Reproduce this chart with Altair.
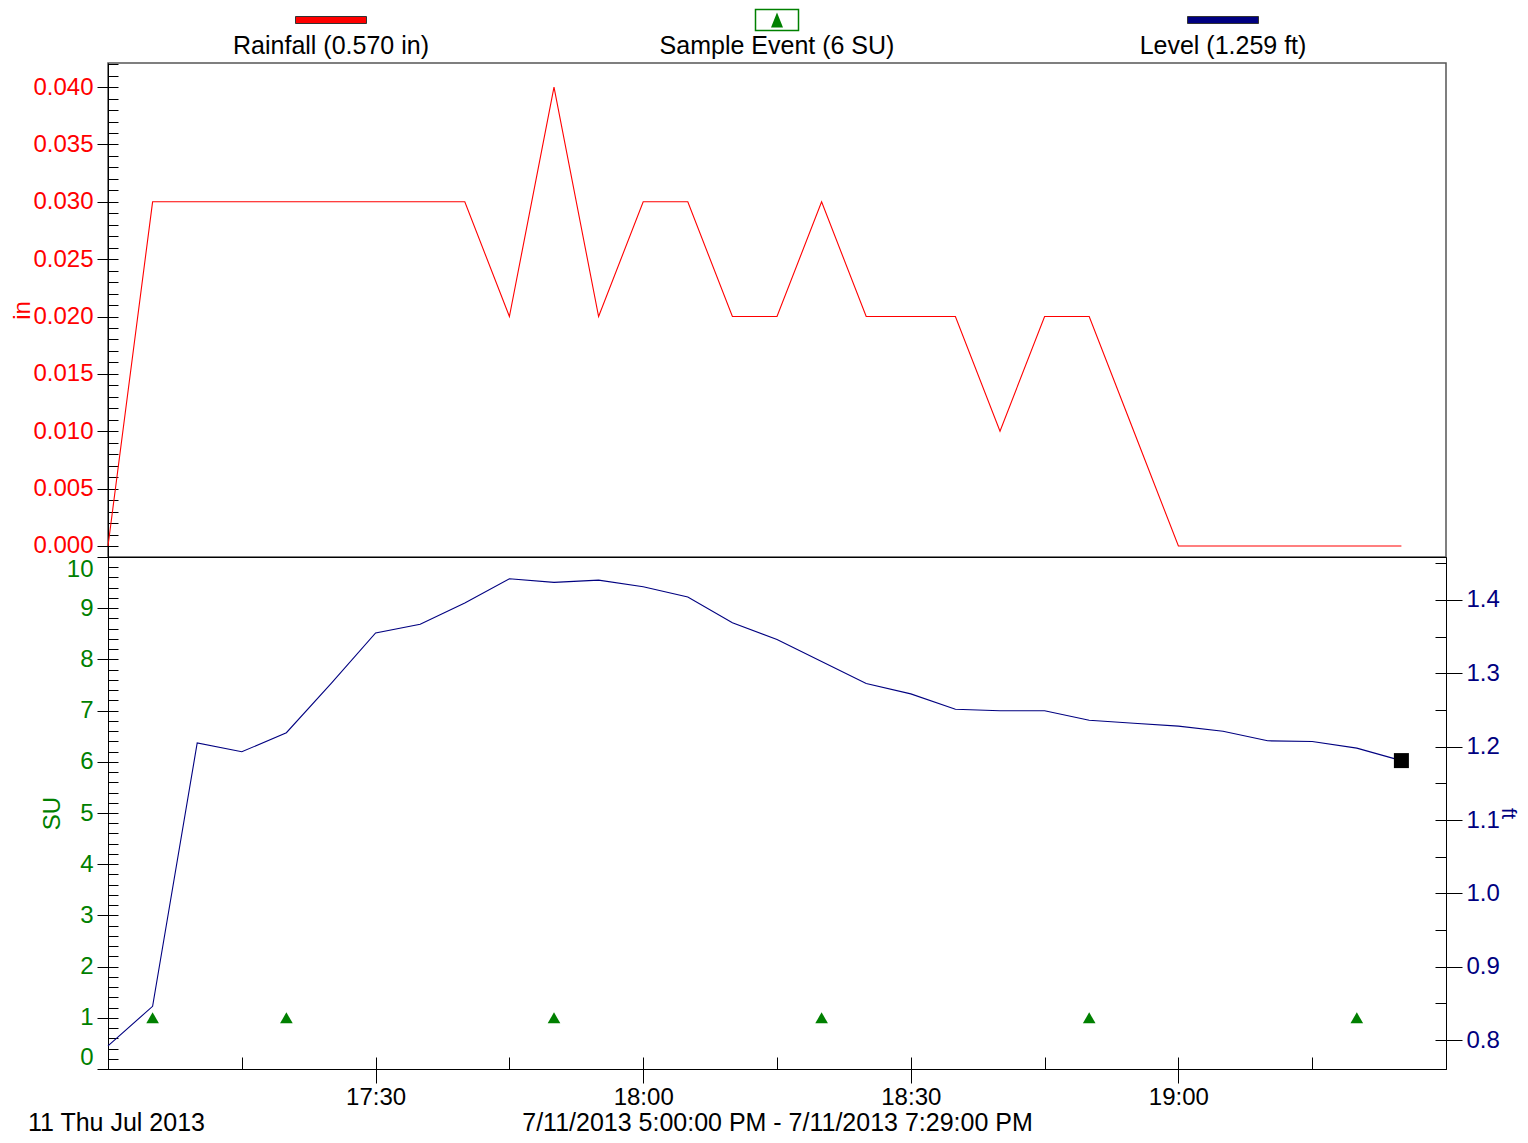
import altair as alt
import pandas as pd
import numpy as np

# ---------------- data ----------------
times = pd.date_range("2013-07-11 17:00", periods=30, freq="5min")

rain_in = [0.000, 0.030, 0.030, 0.030, 0.030, 0.030, 0.030, 0.030, 0.030, 0.020,
           0.040, 0.020, 0.030, 0.030, 0.020, 0.020, 0.030, 0.020, 0.020, 0.020,
           0.010, 0.020, 0.020, 0.010, 0.000, 0.000, 0.000, 0.000, 0.000, 0.000]

level_ft = [0.792, 0.846, 1.205, 1.193, 1.219, 1.286, 1.355, 1.367, 1.396, 1.429,
            1.424, 1.427, 1.418, 1.404, 1.369, 1.346, 1.316, 1.286, 1.272, 1.251,
            1.249, 1.249, 1.236, 1.232, 1.228, 1.221, 1.208, 1.207, 1.198, 1.181]

sample_times = ["2013-07-11T17:05:00", "2013-07-11T17:20:00", "2013-07-11T17:50:00",
                "2013-07-11T18:20:00", "2013-07-11T18:50:00", "2013-07-11T19:20:00"]
sample_su = [1, 1, 1, 1, 1, 1]

legend_keys = ["rain", "sample", "level"]
legend_labels = ["Rainfall (0.570 in)", "Sample Event (6 SU)", "Level (1.259 ft)"]

rain_ticks = [0.000, 0.005, 0.010, 0.015, 0.020, 0.025, 0.030, 0.035, 0.040]
rain_minor = [round(v, 3) for v in np.arange(0.0, 0.0425, 0.001)]
su_ticks = [0, 1, 2, 3, 4, 5, 6, 7, 8, 9, 10]
su_minor = [round(v, 1) for v in np.arange(0.0, 10.01, 0.2)]
ft_ticks = [0.8, 0.9, 1.0, 1.1, 1.2, 1.3, 1.4]
ft_minor = [round(v, 2) for v in np.arange(0.8, 1.46, 0.05)]
time_major = [(17, 30), (18, 0), (18, 30), (19, 0)]
time_minor = [(17, 15), (17, 30), (17, 45), (18, 0), (18, 15), (18, 30),
              (18, 45), (19, 0), (19, 15)]

day_label = "11 Thu Jul 2013"
range_label = "7/11/2013 5:00:00 PM - 7/11/2013 7:29:00 PM"

# ---------------- styling ----------------
FONT = "Liberation Sans"
FS = 24
FS_BIG = 25
RED = "#ff0000"
GREEN = "#008000"
NAVY = "#000080"
W = 1338
H_TOP = 494
H_BOT = 512
H_LEG = 54


def dt(h, m):
    return alt.DateTime(year=2013, month=7, date=11, hours=h, minutes=m)


x_dom = [dt(17, 0), dt(19, 30)]
x_scale = alt.Scale(domain=x_dom, nice=False)
x_none = alt.X("time:T", scale=x_scale, axis=None)

rain_scale = alt.Scale(domain=[-0.00096, 0.0421], nice=False, zero=False)
su_scale = alt.Scale(domain=[0, 10], nice=False, zero=False)
ft_scale = alt.Scale(domain=[0.7605, 1.4586], nice=False, zero=False)

rain_df = pd.DataFrame({"time": times, "rain": rain_in})
level_df = pd.DataFrame({"time": times, "level": level_ft})
su_df = pd.DataFrame({"time": pd.to_datetime(sample_times), "su": sample_su})
last_df = level_df.tail(1)
leg_df = pd.DataFrame({"key": legend_keys, "label": legend_labels})

# ---------------- legend strip ----------------
x_leg = alt.X("key:N", scale=alt.Scale(type="point", domain=legend_keys, padding=0.5), axis=None)
LEG_Y = 11

leg_bars = alt.Chart(leg_df).transform_filter(alt.datum.key != "sample").mark_tick(
    orient="horizontal", size=71, thickness=7, stroke="#333333", strokeWidth=1, opacity=1
).encode(
    x=x_leg, y=alt.value(LEG_Y),
    fill=alt.Fill("key:N", scale=alt.Scale(domain=["rain", "level"], range=[RED, NAVY]), legend=None),
)
leg_box = alt.Chart(leg_df).transform_filter(alt.datum.key == "sample").mark_tick(
    orient="horizontal", size=43, thickness=21, fill="white", stroke=GREEN, strokeWidth=1.5, opacity=1
).encode(x=x_leg, y=alt.value(LEG_Y))
leg_tri = alt.Chart(leg_df).transform_filter(alt.datum.key == "sample").mark_point(
    shape="M0,-1L0.8,1L-0.8,1Z", size=225, filled=True, color=GREEN, opacity=1
).encode(x=x_leg, y=alt.value(LEG_Y))
leg_text = alt.Chart(leg_df).mark_text(
    font=FONT, fontSize=FS_BIG, baseline="middle", color="black"
).encode(x=x_leg, y=alt.value(37), text="label:N")

legend = alt.layer(leg_bars, leg_box, leg_tri, leg_text).properties(width=W, height=H_LEG)

# ---------------- top panel: rainfall ----------------
rain_line = alt.Chart(rain_df).mark_line(color=RED, strokeWidth=1.1).encode(
    x=x_none,
    y=alt.Y("rain:Q", scale=rain_scale,
            axis=alt.Axis(orient="left", values=rain_ticks, format=".3f", title="in",
                          labelColor=RED, titleColor=RED, tickSize=11, labelPadding=4,
                          titlePadding=-2)),
)
rain_minor_ax = alt.Chart(rain_df).mark_point(opacity=0).encode(
    x=x_none,
    y=alt.Y("rain:Q", scale=rain_scale,
            axis=alt.Axis(orient="left", offset=-10, values=rain_minor, tickSize=10,
                          labels=False, domain=False, title=None)),
)
top = alt.layer(rain_line, rain_minor_ax).resolve_scale(y="independent").properties(
    width=W, height=H_TOP, view=alt.ViewBackground(stroke="#555555", strokeWidth=1.5)
)

# ---------------- bottom panel: level + sample events ----------------
x_major = alt.X("time:T", scale=x_scale,
                axis=alt.Axis(orient="bottom", values=[dt(h, m) for h, m in time_major],
                              format="%H:%M", tickSize=14, labelPadding=2,
                              title=range_label, titlePadding=1, titleColor="black",
                              titleFontSize=FS_BIG))
y_ft = alt.Y("level:Q", scale=ft_scale,
             axis=alt.Axis(orient="right", values=ft_ticks, format=".1f", title="ft",
                           labelColor=NAVY, titleColor=NAVY, tickSize=16, labelPadding=4,
                           titlePadding=-2, titleFontSize=20))
level_line = alt.Chart(level_df).mark_line(color=NAVY, strokeWidth=1.1).encode(x=x_major, y=y_ft)
level_end = alt.Chart(last_df).mark_square(size=225, color="black", opacity=1).encode(x=x_major, y=y_ft)
level_layer = alt.layer(level_line, level_end)

ft_minor_ax = alt.Chart(level_df).mark_point(opacity=0).encode(
    x=x_none,
    y=alt.Y("level:Q", scale=ft_scale,
            axis=alt.Axis(orient="right", offset=-11, values=ft_minor, tickSize=11,
                          labels=False, domain=False, title=None)),
)
su_tri = alt.Chart(su_df).mark_point(shape="triangle-up", filled=True, color=GREEN, size=160, opacity=1).encode(
    x=x_none,
    y=alt.Y("su:Q", scale=su_scale,
            axis=alt.Axis(orient="left", values=su_ticks, format="d", title="SU",
                          labelColor=GREEN, titleColor=GREEN, tickSize=11, labelPadding=4,
                          titlePadding=2, labelFlush=True)),
)
su_minor_ax = alt.Chart(su_df).mark_point(opacity=0).encode(
    x=x_none,
    y=alt.Y("su:Q", scale=su_scale,
            axis=alt.Axis(orient="left", offset=-10, values=su_minor, tickSize=10,
                          labels=False, domain=False, title=None)),
)
x_minor_ax = alt.Chart(level_df).mark_point(opacity=0).encode(
    x=alt.X("time:T", scale=x_scale,
            axis=alt.Axis(orient="bottom", offset=-12, values=[dt(h, m) for h, m in time_minor],
                          tickSize=12, labels=False, domain=False, title=None)),
    y=alt.Y("level:Q", scale=ft_scale, axis=None),
)
day_text = alt.Chart(pd.DataFrame({"label": [day_label]})).mark_text(
    align="left", baseline="middle", font=FONT, fontSize=FS_BIG, color="black"
).encode(x=alt.value(-80), y=alt.value(566), text="label:N")

bottom = alt.layer(level_layer, ft_minor_ax, su_tri, su_minor_ax, x_minor_ax, day_text).resolve_scale(
    x="independent", y="independent"
).properties(width=W, height=H_BOT, view=alt.ViewBackground(stroke="#000000", strokeWidth=1))

chart = alt.vconcat(legend, top, bottom, spacing=0, bounds="flush").properties(
    padding={"left": 2, "top": 0, "right": 2, "bottom": 0}
).configure_view(stroke=None).configure_axis(
    grid=False, labelFont=FONT, titleFont=FONT, labelFontSize=FS, titleFontSize=FS,
    titleFontWeight="normal", domainColor="black", tickColor="black", labelColor="black",
    domainWidth=1, tickWidth=1,
)

chart.save("out.html", embed_options={"renderer": "svg", "actions": False})
